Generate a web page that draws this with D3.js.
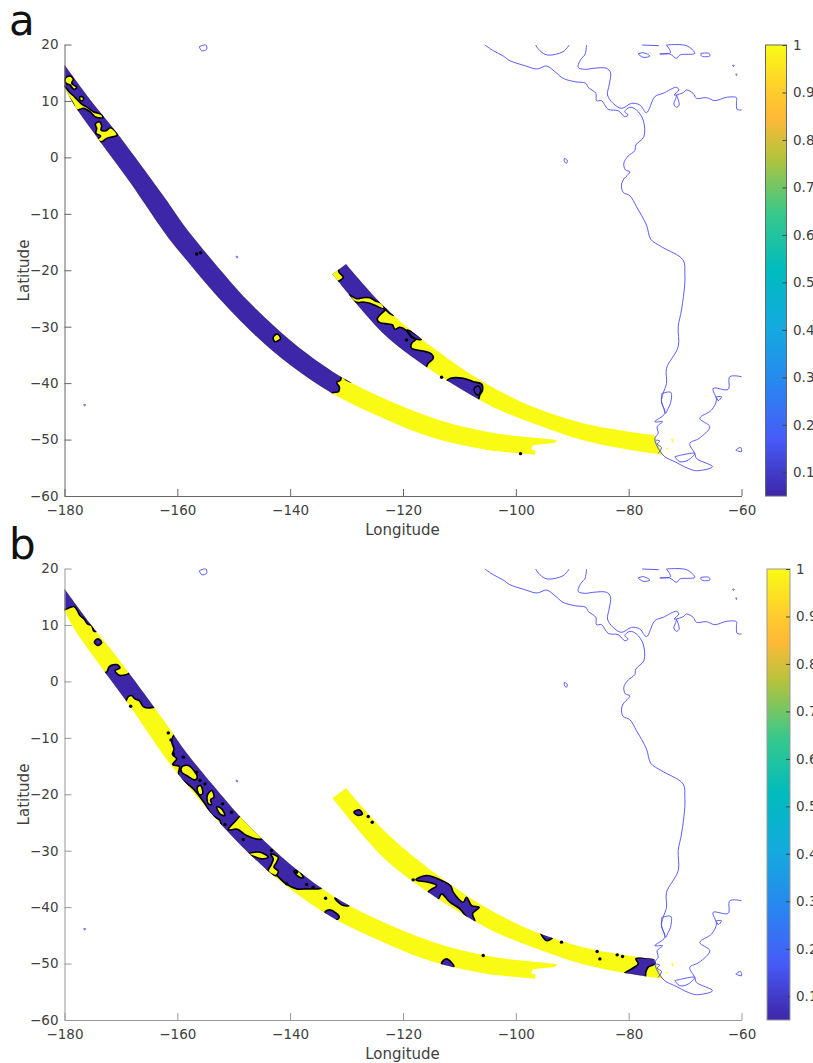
<!DOCTYPE html>
<html>
<head>
<meta charset="utf-8">
<script src="https://d3js.org/d3.v7.min.js"></script>
<style>
  html, body { margin: 0; padding: 0; background: #fff; }
  svg { display: block; }
  text { font-family: "DejaVu Sans", sans-serif; fill: #404040; }
</style>
</head>
<body>
<div id="chart"></div>
<script>
// ticks
const lonTicks = [-180, -160, -140, -120, -100, -80, -60];
const latTicks = [20, 10, 0, -10, -20, -30, -40, -50, -60];
const barTicks = [0.1, 0.2, 0.3, 0.4, 0.5, 0.6, 0.7, 0.8, 0.9, 1];

// colour bar stops (value fraction, colour)
const barStops = [0, 0.125, 0.25, 0.375, 0.5, 0.625, 0.75, 0.84, 0.9, 1];
const barColors = ["#3e26a8", "#475bf8", "#2887f0", "#14aade", "#00bbbe", "#37c88c", "#b4c33c", "#ffb937", "#fecd2d", "#f9fb15"];

// swath outlines, lon/lat
const trackOneUpper = [[-180,16.4],[-175.5,10.3],[-170.7,4.3],[-162.2,-7.2],[-159,-11.8],[-156.5,-15],[-151.9,-20.5],[-148.9,-23.95],[-145.9,-27],[-140,-32.4],[-134.2,-36.8],[-129.4,-39.8],[-120.6,-43.9],[-111.7,-47.1],[-102.8,-49],[-97.5,-49.6],[-92.7,-50.1]];
const trackOneCap = [[-93.1,-50.6],[-97,-51],[-97.3,-51.7],[-96.5,-52]];
const trackOneLower = [[-96.6,-52.7],[-105.8,-51.7],[-114.7,-49.7],[-123.6,-46.2],[-132.6,-41.8],[-140,-36.8],[-145.9,-31.8],[-153.3,-24.2],[-157.8,-18.9],[-161.3,-14.64],[-163.1,-12.16],[-168.4,-4.4],[-173.9,3.1],[-178.1,9],[-180,12.5]];
const trackTwoUpper = [[-130.1,-18.9],[-123.6,-26.2],[-116.7,-32.2],[-111.7,-35.9],[-105.8,-39.8],[-97,-44.2],[-88.1,-47.1],[-79.3,-48.7],[-75.5,-49.2]];
const trackTwoCap = [[-74.7,-51]];
const trackTwoLower = [[-73.9,-52.7],[-79.3,-51.9],[-88.1,-50.1],[-97,-47.1],[-102.8,-44.8],[-106.7,-42.8],[-115.6,-37.3],[-123.6,-31.1],[-131.7,-21.7]];
const trackTwoCorner = [[-132.5,-20.7]];

// panel a, first swath (yellow tail, blue head)
const aOneHead = [[-129.11,-39.75],[-130,-39.45],[-130.88,-38.74],[-131.06,-39.45],[-131.77,-39.92],[-131.3,-40.63],[-131.47,-41.52],[-132.66,-41.81],[-135,-50],[-170,-20],[-195,10],[-185,25],[-160,0],[-130,-30]];
const aOneHook = [[-174.54,5.91],[-173.83,6.32],[-173.41,5.56],[-173.53,4.85],[-172.65,4.73],[-171.82,5.26],[-170.64,3.96],[-172.53,3.37],[-173.41,2.78],[-174.3,3.08],[-173.59,3.78],[-174.42,4.26],[-174.3,5.14]];
const aOneBlob = [[-179.85,14],[-179.03,14.42],[-178.43,13.83],[-178.73,13.12],[-177.84,12.41],[-178.32,12.05],[-179.03,12.82],[-179.73,13.12]];
const aOneRibbon = [[-180.03,12.64],[-179.2,11.64],[-178.14,10.64],[-176.96,9.45],[-175.95,8.86],[-174.89,8.09],[-173.41,7.56],[-173.24,7.03],[-174.6,7.21],[-175.48,8.09],[-176.66,8.69],[-177.25,8.51],[-177.96,8.39],[-178.43,9.45],[-179.32,10.75],[-180.03,11.64]];
const aOneSpot = [[-177.25,10.75],[-176.66,10.64],[-176.78,10.04],[-177.25,10.16]];
const aOneMid = [[-143,-31.89],[-142.29,-31.3],[-141.7,-32.07],[-142.7,-32.66]];

// panel a, second swath (yellow base)
const aTwoBlue = [[-130.59,-17.59],[-129.4,-18.2],[-122.3,-25.3],[-123.03,-26.9],[-124.09,-27.93],[-124.57,-28.7],[-124.09,-29.29],[-122.62,-29.52],[-121.85,-29.7],[-121.43,-30.47],[-120.55,-30.11],[-119.49,-30.59],[-118.48,-31.89],[-117.71,-32.24],[-118.48,-32.95],[-118.48,-33.84],[-116.41,-34.31],[-114.94,-34.84],[-114.64,-35.61],[-115.53,-36.49],[-115.94,-37.38],[-116.41,-38.56],[-132.95,-22.91],[-133.25,-20.84]];
const aTwoSliver = [[-119.25,-30.59],[-118.2,-31.06],[-116.71,-32.24],[-117.6,-32.24],[-118.48,-31.65]];
const aTwoSliverTop = [[-123.38,-26.45],[-121.43,-27.93],[-121.85,-27.93],[-123.03,-27.04]];
const aTwoRibbon = [[-129.53,-24.38],[-128.23,-25.03],[-127.05,-24.86],[-125.87,-24.86],[-124.98,-25.39],[-123.62,-25.98],[-123.38,-26.81],[-124.98,-26.22],[-125.87,-25.86],[-127.05,-25.62],[-127.93,-25.74],[-128.82,-25.39]];
const aTwoCorner = [[-132.95,-19.95],[-131.65,-19.48],[-131.3,-20.43],[-130.59,-21.25],[-131.89,-22.08],[-132.95,-21.43]];
const aTwoLower = [[-112.4,-39.74],[-111.57,-39.15],[-109.33,-39.15],[-107.55,-39.74],[-106.08,-40.16],[-105.9,-41.22],[-106.37,-42.11],[-106.67,-42.99],[-107.55,-44.17],[-113.16,-40.92]];
const aTwoLoop = [[-107.38,-40.92],[-106.67,-40.51],[-106.2,-41.22],[-106.67,-42.11],[-107.26,-41.69]];

// panel b, first swath (yellow base)
const bOneStart = [[-180.8,12.55],[-179.32,12.97],[-178.32,13.26],[-177.73,12.55],[-177.25,11.67],[-176.54,11.08],[-175.95,10.19],[-175.19,9.89],[-174.77,8.89],[-173.12,9.6],[-179.62,17.87],[-180.8,17.28]];
const bOneDiamond = [[-174.71,6.94],[-174.12,7.53],[-173.41,6.94],[-174,6.35]];
const bOneUpper = [[-172.53,1.62],[-172.05,2.63],[-170.76,2.98],[-170.16,2.39],[-171.05,1.92],[-170.28,1.09],[-168.98,1.21],[-168.1,1.62],[-163.67,-4.28],[-164.85,-4.7],[-166.03,-4.46],[-166.74,-3.4],[-167.51,-3.1],[-168.1,-2.51],[-168.69,-2.69],[-169.28,-3.69],[-170.16,-3.4],[-173.71,1.33]];
const bOneMain = [[-161.01,-10.48],[-160.6,-11.96],[-160.83,-12.96],[-160.12,-13.73],[-160.83,-14.73],[-159.65,-15.09],[-159.83,-16.68],[-158.94,-17.57],[-157.17,-19.05],[-155.1,-21.7],[-153.92,-23.59],[-152.45,-24.66],[-152.15,-25.72],[-150.67,-27.32],[-148.61,-29.38],[-147.42,-30.56],[-145.95,-32.63],[-144.18,-33.52],[-142.4,-34.4],[-140.75,-35.88],[-138.86,-36.77],[-137.09,-36.77],[-135.02,-36.77],[-134.43,-36.59],[-132.95,-34.11],[-159.53,-8.71]];
const bIslandOne = [[-159.24,-15.21],[-158.06,-14.91],[-156.46,-16.98],[-156.88,-17.45],[-158.35,-16.68],[-159.24,-16.09]];
const bIslandTwo = [[-156.46,-18.75],[-155.87,-18.45],[-155.52,-19.93],[-156.11,-20.05]];
const bIslandThree = [[-154.69,-20.23],[-153.92,-19.34],[-153.51,-20.52],[-154.1,-20.99],[-153.92,-21.82],[-154.51,-21.7]];
const bIslandFour = [[-153.04,-22.18],[-152.15,-22.59],[-151.56,-23.77],[-152.45,-23.48]];
const bIslandFive = [[-148.61,-23.77],[-149.61,-24.66],[-150.97,-26.31],[-149.37,-26.19],[-147.72,-27.32],[-145.18,-27.97],[-144.17,-27.02]];
const bIslandSix = [[-147.42,-30.56],[-145.36,-30.27],[-143.88,-31.16],[-145.06,-31.45],[-146.54,-30.98]];
const bIslandSeven = [[-143.47,-30.56],[-142.11,-31.16],[-142.4,-32.04],[-142.88,-32.93],[-142.11,-33.64],[-142.52,-34.4],[-143.88,-33.64],[-143.29,-32.34],[-142.99,-31.45]];
const bIslandEight = [[-139.33,-33.64],[-138.56,-33.52],[-137.68,-34.82],[-138.56,-34.58]];
const bOneSliver = [[-132.07,-38.36],[-130.88,-38.72],[-129.53,-39.72],[-130.59,-39.72],[-131.48,-39.13]];
const bOneBlob = [[-133.84,-40.9],[-132.95,-40.49],[-131.3,-41.67],[-131.77,-42.26],[-133.54,-41.49]];
const bOneTriangle = [[-113.17,-49.94],[-112.28,-49.17],[-110.98,-50.53],[-112.58,-50.65]];

// panel b, second swath (yellow base)
const bTwoBlob = [[-128.7,-23.18],[-127.76,-22.77],[-127.17,-23.48],[-127.93,-23.77]];
const bTwoMain = [[-117.71,-35.17],[-115.82,-34.4],[-112.87,-35.4],[-111.57,-36.17],[-111.1,-37.35],[-109.33,-39.13],[-108.74,-38.24],[-107.85,-39.72],[-106.49,-40.01],[-107.67,-41.19],[-107.26,-42.49],[-108.44,-42.08],[-109.92,-40.31],[-111.69,-39.13],[-113.17,-37.65],[-113.76,-38.54],[-114.94,-38.24],[-115.53,-37.35],[-114.05,-36.17],[-115.53,-35.58]];
const bTwoTriangle = [[-95.62,-44.44],[-93.49,-45.33],[-94.56,-45.92]];
const bTwoEnd = [[-80.86,-51.94],[-79.5,-50.94],[-78.31,-50.05],[-78.73,-49.17],[-76.84,-48.99],[-75.18,-49.29],[-75.36,-50.05],[-76.54,-50.64],[-76.95,-51.53],[-77.13,-52.59],[-78.6,-52.71]];

// isolated contour specks
const aDots = [[-113.16,-38.97],[-119.37,-32.36],[-99.17,-52.5],[-156.57,-17.12],[-155.87,-16.89]];
const bDots = [[-168.27,-4.4],[-161.6,-9.13],[-161.13,-10.37],[-133.72,-38.42],[-137.09,-36],[-148.31,-28.02],[-143.29,-29.97],[-151.97,-21.7],[-150.38,-23.18],[-155.99,-17.57],[-126.16,-23.95],[-125.45,-24.95],[-91.9,-46.21],[-85.58,-47.87],[-85.11,-49.17],[-82.04,-48.46],[-81.09,-48.75],[-118.19,-35.17],[-105.78,-48.58],
  [-160.7,-12.84],[-158.94,-13.43],[-156.58,-16.09],[-155.1,-18.16],[-151.56,-25.37],[-138.86,-33.81],[-135.91,-36.47],[-140.63,-35.88]];
const yellowSpecks = [[-72.3,-50],[-72.2,-50.3],[-73.2,-51.6]];

// coast, one ring per line
const coastMain = [[-105.49,19.91],[-104.01,18.91],[-102.24,17.96],[-101.06,17.13],[-98.4,16.25],[-96.22,15.66],[-94.56,16.19],[-93.08,15.19],[-91.61,14],[-89.54,13.41],[-87.59,13.12],[-87.18,12.41],[-85.82,11.35],[-85.7,10.05],[-84.81,10.05],[-83.63,8.51],[-81.86,8.27],[-80.68,7.21],[-80.09,7.51],[-80.68,8.1],[-79.79,8.87],[-78.61,8.39],[-77.43,6.62],[-77.31,3.67],[-78.73,2.19],[-78.91,1.19],[-80.09,0.24],[-80.86,-1.06],[-80.56,-2.24],[-79.79,-2.54],[-80.98,-4.01],[-81.27,-4.9],[-80.98,-6.2],[-79.79,-6.79],[-78.61,-8.74],[-76.84,-11.99],[-76.07,-14.53],[-74.18,-15.83],[-70.34,-18.19],[-70.05,-20.55],[-70.05,-22.32],[-70.63,-27.04],[-71.22,-29.98],[-71.22,-33.54],[-73.29,-37.38],[-73.29,-40.04],[-73.89,-41.82],[-74.18,-43.29],[-73.59,-45.36],[-75.36,-46.84],[-74,-46.84],[-74.95,-47.72],[-74.77,-48.9],[-75.36,-49.79],[-74.77,-51.56],[-73.59,-53.04],[-71.82,-53.93],[-69.46,-55.11],[-67.98,-55.52],[-65.14,-54.81],[-67.98,-53.34],[-68.28,-52.45],[-69.16,-50.68],[-67.51,-49.79],[-65.62,-47.72],[-67.39,-46.25],[-65.32,-44.77],[-64.44,-43],[-65.03,-40.93],[-62.37,-41.11],[-62.07,-38.86],[-60,-38.86]];
const coastChiloe = [[-74.12,-41.82],[-72.53,-41.64],[-72.59,-43.59],[-73,-44.48],[-73.47,-45.36],[-73.77,-44.48],[-74.18,-43.29],[-74.12,-41.82]];
const coastFuego = [[-71.82,-53.04],[-70.64,-52.74],[-68.28,-52.45],[-69.46,-53.63],[-70.93,-53.93],[-71.82,-53.04]];
const coastGolfo = [[-64.44,-42.41],[-63.55,-42.41],[-64.14,-43.12],[-64.44,-42.41]];
const coastFalkland = [[-61.01,-51.86],[-60.18,-51.39],[-60,-52.15],[-60.6,-52.04],[-61.01,-51.86]];
const coastFjord = [[-75.19,-50.09],[-74.48,-50.26],[-74.95,-50.8],[-74.18,-51.39],[-74.77,-52.45]];
const coastGulf = [[-96.51,19.91],[-95.74,18.91],[-94.44,18.14],[-91.61,18.73],[-90.55,19.91]];
const coastCarib = [[-87.47,19.91],[-87.77,18.14],[-88.36,17.55],[-88.95,15.95],[-87.77,15.6],[-86.29,15.78],[-83.93,15.78],[-83.22,15.01],[-83.46,12.82],[-83.75,11.05],[-82.75,9.57],[-81.27,8.69],[-79.5,9.57],[-78.02,9.28],[-76.84,7.92],[-75.36,10.76],[-73.89,11.35],[-71.52,12.41],[-71.11,11.94],[-71.94,11.05],[-70.34,11.46],[-69.75,11.94],[-68.57,11.35],[-67.98,10.46],[-66.21,10.58],[-64.73,10.05],[-62.66,10.64],[-60.89,10.58],[-60.89,9.87],[-60.77,8.51],[-60,8.39]];
const coastMaracaibo = [[-71.52,11.05],[-71.05,9.28],[-71.52,8.87],[-71.99,9.46],[-71.64,10.46],[-71.52,11.05]];
const coastCuba = [[-77.61,19.91],[-74.66,19.79]];
const coastJamaica = [[-78.32,18.32],[-77.43,18.55],[-76.25,17.96],[-77.43,17.73],[-78.32,18.32]];
const coastHispaniola = [[-73.3,19.91],[-69.75,19.79],[-68.28,18.43],[-70.93,18.14],[-71.52,17.55],[-72.71,18.32],[-74.48,18.32],[-72.59,18.55],[-73.3,19.91]];
const coastPuertoRico = [[-67.21,18.43],[-65.74,18.43],[-65.62,17.96],[-67.09,17.96],[-67.21,18.43]];
const coastGuadeloupe = [[-61.6,16.3],[-61.3,16.3],[-61.4,16.1],[-61.6,16.3]];
const coastMartinique = [[-61,14.8],[-60.8,14.7],[-60.9,14.5],[-61,14.8]];
const coastGalapagos = [[-91.43,-0.17],[-90.9,-0.47],[-91.02,-1.06],[-91.37,-0.76],[-91.43,-0.17]];
const coastHawaii = [[-156.11,19.62],[-154.93,19.91],[-154.81,19.14],[-155.69,18.9],[-156.11,19.62]];
const coastTahiti = [[-149.6,-17.5],[-149.3,-17.6],[-149.4,-17.85],[-149.6,-17.5]];
const coastChatham = [[-176.6,-43.8],[-176.3,-43.8],[-176.4,-44.1],[-176.6,-43.8]];

const coastLines = [coastMain, coastChiloe, coastFuego, coastGolfo, coastFalkland, coastFjord, coastGulf, coastCarib, coastMaracaibo,
  coastCuba, coastJamaica, coastHispaniola, coastPuertoRico, coastGuadeloupe, coastMartinique, coastGalapagos, coastHawaii, coastTahiti, coastChatham];

const trackOne = { upper: trackOneUpper, cap: trackOneCap, lower: trackOneLower, corner: [] };
const trackTwo = { upper: trackTwoUpper, cap: trackTwoCap, lower: trackTwoLower, corner: trackTwoCorner };

// value 1 = yellow, value 0.05 = blue; later patches sit on top of earlier ones
const panelA = [
  { track: trackOne, base: 1, patches: [[0.05, aOneHead], [1, aOneHook], [1, aOneBlob], [1, aOneRibbon], [1, aOneSpot], [1, aOneMid]] },
  { track: trackTwo, base: 1, patches: [[0.05, aTwoBlue], [0.05, aTwoSliver], [0.05, aTwoSliverTop], [1, aTwoRibbon], [1, aTwoCorner], [0.05, aTwoLower], [0.05, aTwoLoop]] }
];
const panelB = [
  { track: trackOne, base: 1, patches: [[0.05, bOneStart], [0.05, bOneDiamond], [0.05, bOneUpper], [0.05, bOneMain], [1, bIslandOne], [1, bIslandTwo], [1, bIslandThree], [1, bIslandFour], [1, bIslandFive], [1, bIslandSix], [1, bIslandSeven], [1, bIslandEight], [0.05, bOneSliver], [0.05, bOneBlob], [0.05, bOneTriangle]] },
  { track: trackTwo, base: 1, patches: [[0.05, bTwoBlob], [0.05, bTwoMain], [0.05, bTwoTriangle], [0.05, bTwoEnd]] }
];

const svg = d3.select("#chart").append("svg").attr("width", 813).attr("height", 1063);

const color = d3.scaleLinear()
  .domain(barStops.map(function(t) { return 0.05 + 0.95 * t; }))
  .range(barColors);

const x = d3.scaleLinear().domain([-180, -60]).range([64.5, 741.5]);

function drawPanel(name, letter, layers, dots, top, barLeft, barWidth, barLabelGap, axisColor) {
  const bottom = top + 451.5;
  const y = d3.scaleLinear().domain([20, -60]).range([top, bottom]);
  const px = function(d) { return x(d[0]); };
  const py = function(d) { return y(d[1]); };
  const smooth = d3.line().x(px).y(py).curve(d3.curveCatmullRom.alpha(0.5));
  const blob = d3.line().x(px).y(py).curve(d3.curveCatmullRomClosed.alpha(0.5));

  // upper edge, then the straight end pieces, then lower edge
  function outline(t) {
    const lineTo = function(pts) {
      return pts.map(function(p) { return "L" + px(p) + "," + py(p); }).join("");
    };
    return smooth(t.upper) + lineTo(t.cap) + smooth(t.lower).replace("M", "L") + lineTo(t.corner) + "Z";
  }

  const g = svg.append("g");

  // swaths and their contours, clipped to each swath
  layers.forEach(function(layer, i) {
    const id = name + "-clip-" + i;
    svg.append("clipPath").attr("id", id).append("path").attr("d", outline(layer.track));
    g.append("path").attr("d", outline(layer.track)).attr("fill", color(layer.base));
    g.append("g").attr("clip-path", "url(#" + id + ")")
      .selectAll("path")
      .data(layer.patches)
      .enter()
      .append("path")
        .attr("d", function(d) { return blob(d[1]); })
        .attr("fill", function(d) { return color(d[0]); })
        .attr("stroke", "#000")
        .attr("stroke-width", 1.6)
        .attr("stroke-linejoin", "round");
  });

  g.selectAll("circle.dot")
    .data(dots)
    .enter()
    .append("circle")
      .attr("cx", px)
      .attr("cy", py)
      .attr("r", 1.7)
      .attr("fill", "#000");

  g.selectAll("circle.speck")
    .data(yellowSpecks)
    .enter()
    .append("circle")
      .attr("cx", px)
      .attr("cy", py)
      .attr("r", 0.9)
      .attr("fill", color(1));

  // coast
  g.selectAll("path.coast")
    .data(coastLines)
    .enter()
    .append("path")
      .attr("class", "coast")
      .attr("d", function(d) { return smooth(d); })
      .attr("fill", "none")
      .attr("stroke", "#4a4aff")
      .attr("stroke-width", 0.9);

  // axes
  const xAxis = svg.append("g")
    .attr("transform", "translate(0," + bottom + ")")
    .call(d3.axisBottom(x).tickValues(lonTicks).tickSize(-7).tickSizeOuter(0).tickPadding(9).tickFormat(d3.format("d")));
  const yAxis = svg.append("g")
    .attr("transform", "translate(64.5,0)")
    .call(d3.axisLeft(y).tickValues(latTicks).tickSize(-7).tickSizeOuter(0).tickPadding(6).tickFormat(d3.format("d")));
  [xAxis, yAxis].forEach(function(a) {
    a.selectAll("path, line").attr("stroke", axisColor);
    a.selectAll("text").style("font-size", "13.5px").style("font-family", "'DejaVu Sans'").style("fill", "#404040");
  });

  svg.append("text")
    .attr("x", 402.5)
    .attr("y", bottom + 38.5)
    .attr("text-anchor", "middle")
    .style("font-size", "15px")
    .text("Longitude");
  svg.append("text")
    .attr("transform", "translate(29," + (top + 226) + ")rotate(-90)")
    .attr("text-anchor", "middle")
    .style("font-size", "15px")
    .text("Latitude");
  svg.append("text")
    .attr("x", 9)
    .attr("y", top - 9.5)
    .style("font-size", "42px")
    .style("fill", "#111")
    .text(letter);

  // colour bar
  const gradId = name + "-grad";
  const grad = svg.append("defs").append("linearGradient")
    .attr("id", gradId)
    .attr("x1", 0).attr("x2", 0).attr("y1", 1).attr("y2", 0);
  grad.selectAll("stop")
    .data(barStops)
    .enter()
    .append("stop")
      .attr("offset", function(d) { return d; })
      .attr("stop-color", function(d, i) { return barColors[i]; });

  const barY = d3.scaleLinear().domain([0.05, 1]).range([bottom, top + 0.5]);
  svg.append("rect")
    .attr("x", barLeft)
    .attr("y", barY(1))
    .attr("width", barWidth)
    .attr("height", barY(0.05) - barY(1))
    .attr("fill", "url(#" + gradId + ")")
    .attr("stroke", axisColor);
  const barAxis = svg.append("g")
    .attr("transform", "translate(" + (barLeft + barWidth) + ",0)")
    .call(d3.axisRight(barY).tickValues(barTicks).tickSize(-4).tickSizeOuter(0).tickPadding(barLabelGap).tickFormat(function(d) { return d === 1 ? "1" : d3.format(".1f")(d); }));
  barAxis.select("path").remove();
  barAxis.selectAll("line").attr("stroke", "#444");
  barAxis.selectAll("text").style("font-size", "13.5px").style("font-family", "'DejaVu Sans'").style("fill", "#404040");
}

drawPanel("a", "a", panelA, aDots, 44.5, 765.5, 21, 6.5, "#666");
drawPanel("b", "b", panelB, bDots, 568.5, 767, 23, 6, "#999");
</script>
</body>
</html>
